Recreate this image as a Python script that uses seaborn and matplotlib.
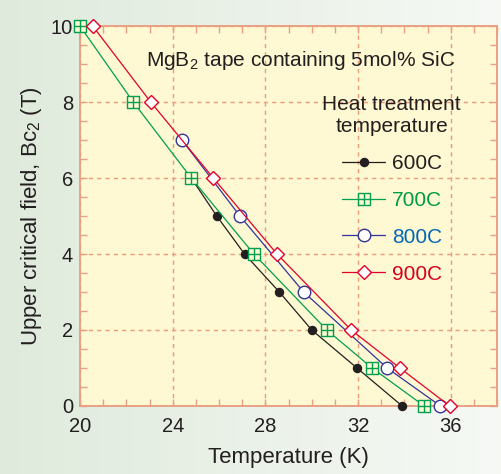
import numpy as np
import matplotlib
matplotlib.use('Agg')
import matplotlib.pyplot as plt
import seaborn as sns
from matplotlib.path import Path
from matplotlib.ticker import MultipleLocator

# Bc2 vs temperature for each heat treatment temperature
t600 = [24.8, 25.9, 27.1, 28.6, 30.0, 31.95, 33.9]
b600 = [6, 5, 4, 3, 2, 1, 0]
t700 = [20.0, 22.3, 24.8, 27.5, 30.65, 32.6, 34.85]
b700 = [10, 8, 6, 4, 2, 1, 0]
t800 = [24.4, 26.9, 29.65, 33.25, 35.55]
b800 = [7, 5, 3, 1, 0]
t900 = [20.55, 23.05, 25.75, 28.5, 31.7, 33.8, 35.95]
b900 = [10, 8, 6, 4, 2, 1, 0]

labels = ['600C', '700C', '800C', '900C']
line_colors = ['#231f20', '#00a050', '#33349a', '#e4002b']
text_colors = ['#231f20', '#009a44', '#0068b7', '#d7001b']

sns.set_theme(style='ticks')
plt.rcParams['font.family'] = ['Liberation Sans', 'DejaVu Sans']
plt.rcParams['mathtext.default'] = 'regular'

salmon = '#e9a083'
grid_c = '#ec9a7a'
ink = '#231f20'
axbg = '#fef8d3'

fig = plt.figure(figsize=(5.01, 4.74), dpi=100)

# gradient background
bg = fig.add_axes([0, 0, 1, 1], zorder=-10)
gx = np.linspace(0, 1, 256)
left = np.array([0.875, 0.918, 0.863])
right = np.array([0.965, 0.976, 0.960])
grad = left[None, :] + (right - left)[None, :] * gx[:, None]
bg.imshow(grad[None, :, :], aspect='auto', extent=[0, 1, 0, 1])
bg.set_axis_off()

ax = fig.add_axes([0.1597, 0.1435, 0.8327, 0.8015])
ax.set_facecolor(axbg)

# square with a cross inside
sq = Path([(-1, -1), (1, -1), (1, 1), (-1, 1), (-1, -1),
           (0, -1), (0, 1), (-1, 0), (1, 0)],
          [Path.MOVETO, Path.LINETO, Path.LINETO, Path.LINETO, Path.CLOSEPOLY,
           Path.MOVETO, Path.LINETO, Path.MOVETO, Path.LINETO])

series = [(t600, b600), (t700, b700), (t800, b800), (t900, b900)]
styles = [
    dict(marker='o', ms=5.8, mfc=line_colors[0], mec=line_colors[0]),
    dict(marker=sq, ms=8, mfc=axbg, mec=line_colors[1], mew=1.0),
    dict(marker='o', ms=9, mfc='white', mec=line_colors[2], mew=1.0),
    dict(marker='D', ms=7.5, mfc='white', mec=line_colors[3], mew=1.0),
]
handles = []
for (t, b), lab, c, st in zip(series, labels, line_colors, styles):
    h, = ax.plot(t, b, color=c, lw=0.9, label=lab, clip_on=False, zorder=3, **st)
    handles.append(h)

ax.set_xlim(20, 38)
ax.set_ylim(0, 10)
ax.xaxis.set_major_locator(MultipleLocator(4))
ax.xaxis.set_minor_locator(MultipleLocator(1))
ax.yaxis.set_major_locator(MultipleLocator(2))
ax.yaxis.set_minor_locator(MultipleLocator(0.5))
ax.set_xticks([20, 24, 28, 32, 36])
ax.set_xticklabels(['20', '24', '28', '32', '36'])

ax.grid(True, which='major', color=grid_c, ls=(0, (3, 3)), lw=1.0)
for s in ax.spines.values():
    s.set_color(salmon)
    s.set_linewidth(1.4)
ax.tick_params(which='both', direction='in', top=True, right=True,
               color=salmon, width=1.0, labelcolor=ink, labelsize=14.5, pad=5)
ax.tick_params(axis='x', which='both', pad=8)
ax.tick_params(which='major', length=5)
ax.tick_params(which='minor', length=5)

ax.set_xlabel('Temperature (K)', fontsize=16, color=ink, labelpad=8)
ax.set_ylabel('Upper critical field, Bc$_2$ (T)', fontsize=16, color=ink, labelpad=5)

ax.text(29.5, 9.1, 'MgB$_2$ tape containing 5mol% SiC', fontsize=15,
        color=ink, ha='center', va='center')

leg = ax.legend(handles=handles, title='Heat treatment\ntemperature',
                loc='upper left', bbox_to_anchor=(0.556, 0.846), frameon=False,
                fontsize=15, title_fontsize=15, handlelength=2.1,
                handletextpad=0.3, labelspacing=0.86, borderpad=0)
leg.get_title().set_color(ink)
leg.get_title().set_multialignment('center')
for txt, c in zip(leg.get_texts(), text_colors):
    txt.set_color(c)

fig.savefig('out.png', dpi=100)
